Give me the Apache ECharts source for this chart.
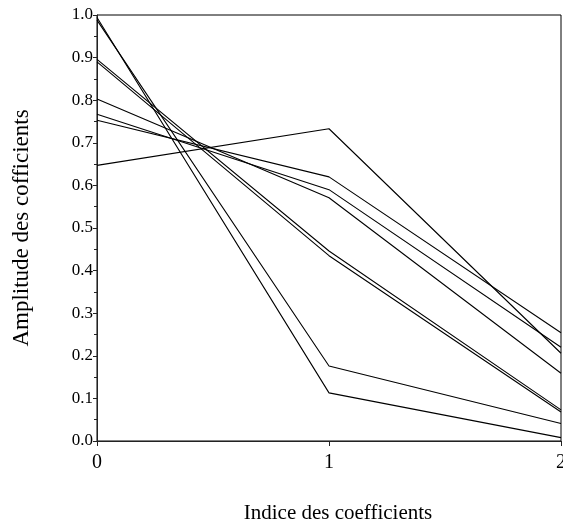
<!DOCTYPE html>
<html>
<head>
<meta charset="utf-8">
<script src="https://cdn.jsdelivr.net/npm/echarts@6/dist/echarts.min.js"></script>
<style>
  html, body { margin: 0; padding: 0; background: #fff; }
  #chart { width: 563px; height: 527px; }
</style>
</head>
<body>
<div id="chart"></div>
<script>
// Coefficient indices along the horizontal axis
const indices = [0, 1, 2];

// Amplitude of each coefficient, one array per curve
const curveA = [0.994, 0.113, 0.008];
const curveB = [0.988, 0.176, 0.041];
const curveC = [0.896, 0.446, 0.073];
const curveD = [0.890, 0.435, 0.068];
const curveE = [0.803, 0.571, 0.159];
const curveF = [0.767, 0.590, 0.220];
const curveG = [0.753, 0.620, 0.254];
const curveH = [0.647, 0.733, 0.206];

const curves = [curveA, curveB, curveC, curveD, curveE, curveF, curveG, curveH];

const serif = '"Liberation Serif", "Times New Roman", serif';

const chart = echarts.init(document.getElementById('chart'), null, { renderer: 'canvas' });

chart.setOption({
  animation: false,
  backgroundColor: '#fff',
  grid: {
    left: 97,
    top: 15,
    width: 464,
    height: 426,
    containLabel: false,
    outerBoundsMode: 'none',
    show: true,
    borderColor: '#000',
    borderWidth: 1,
    backgroundColor: 'transparent'
  },
  xAxis: {
    type: 'value',
    min: 0,
    max: 2,
    interval: 1,
    name: 'Indice des coefficients',
    nameLocation: 'middle',
    nameGap: 62,
    nameTextStyle: {
      fontFamily: serif,
      fontSize: 21,
      color: '#000',
      padding: [0, 0, 0, 18]
    },
    axisLine: { lineStyle: { color: '#222', width: 1 } },
    axisTick: { length: 5, lineStyle: { color: '#222' } },
    axisLabel: {
      fontFamily: serif,
      fontSize: 20,
      color: '#000',
      margin: 12
    },
    splitLine: { show: false }
  },
  yAxis: {
    type: 'value',
    min: 0,
    max: 1,
    interval: 0.1,
    name: 'Amplitude des cofficients',
    nameLocation: 'middle',
    nameGap: 64,
    nameRotate: 90,
    nameTextStyle: {
      fontFamily: serif,
      fontSize: 23,
      color: '#000'
    },
    axisLine: { show: true, lineStyle: { color: '#222', width: 1 } },
    axisTick: { show: true, length: 4, lineStyle: { color: '#222' } },
    minorTick: { show: true, splitNumber: 2, length: 3, lineStyle: { color: '#222' } },
    axisLabel: {
      fontFamily: serif,
      fontSize: 17,
      color: '#000',
      margin: 4,
      formatter: v => v.toFixed(1)
    },
    splitLine: { show: false }
  },
  series: curves.map((vals, i) => ({
    name: 'c' + i,
    type: 'line',
    data: indices.map((x, k) => [x, vals[k]]),
    showSymbol: false,
    symbol: 'none',
    lineStyle: { color: '#000', width: 1.1 },
    silent: true
  }))
});
</script>
</body>
</html>
